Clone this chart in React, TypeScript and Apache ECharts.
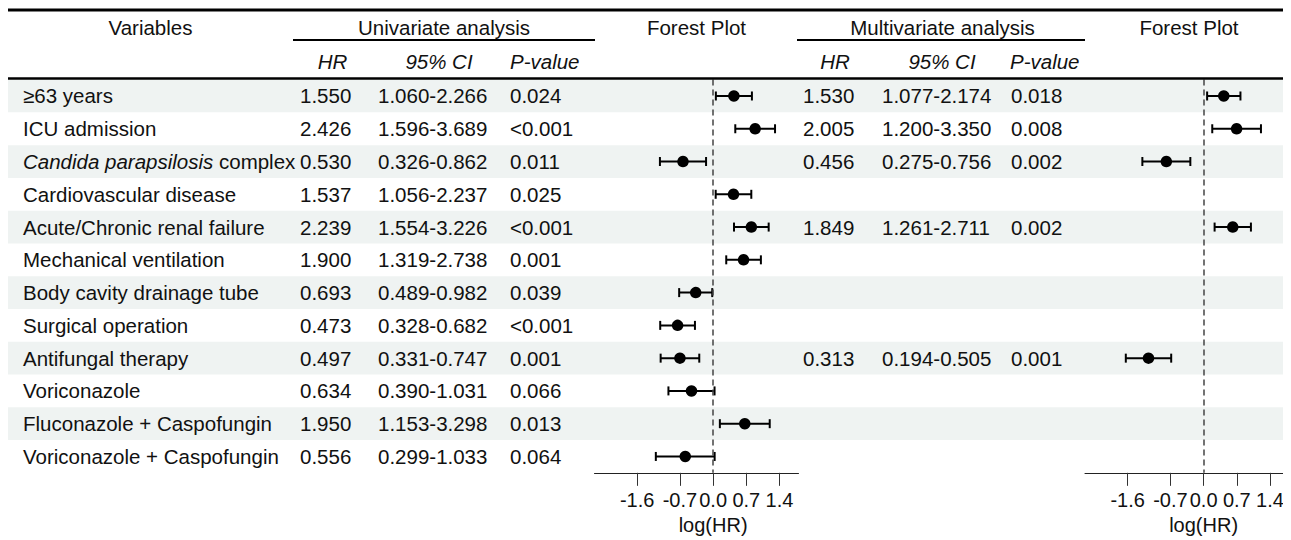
import React, { useEffect, useRef } from "react";
import * as echarts from "echarts";

// ---------------- data ----------------
const variables = [
  "≥63 years",
  "ICU admission",
  "{i|Candida parapsilosis} complex",
  "Cardiovascular disease",
  "Acute/Chronic renal failure",
  "Mechanical ventilation",
  "Body cavity drainage tube",
  "Surgical operation",
  "Antifungal therapy",
  "Voriconazole",
  "Fluconazole + Caspofungin",
  "Voriconazole + Caspofungin",
];
const uniHR = [1.55, 2.426, 0.53, 1.537, 2.239, 1.9, 0.693, 0.473, 0.497, 0.634, 1.95, 0.556];
const uniLow = [1.06, 1.596, 0.326, 1.056, 1.554, 1.319, 0.489, 0.328, 0.331, 0.39, 1.153, 0.299];
const uniHigh = [2.266, 3.689, 0.862, 2.237, 3.226, 2.738, 0.982, 0.682, 0.747, 1.031, 3.298, 1.033];
const uniP = ["0.024", "<0.001", "0.011", "0.025", "<0.001", "0.001", "0.039", "<0.001", "0.001", "0.066", "0.013", "0.064"];
const multiHR = [1.53, 2.005, 0.456, null, 1.849, null, null, null, 0.313, null, null, null];
const multiLow = [1.077, 1.2, 0.275, null, 1.261, null, null, null, 0.194, null, null, null];
const multiHigh = [2.174, 3.35, 0.756, null, 2.711, null, null, null, 0.505, null, null, null];
const multiP = ["0.018", "0.008", "0.002", "", "0.002", "", "", "", "0.001", "", "", ""];
const tickValues = [-1.6, -0.7, 0, 0.7, 1.4];
const headerTop = ["Variables", "Univariate analysis", "Forest Plot", "Multivariate analysis", "Forest Plot"];
const headerSub = ["HR", "95% CI", "P-value"];
const axisTitle = "log(HR)";

// ---------------- layout ----------------
const W = 1283;
const H = 532;
const FONT = '"Liberation Sans", Arial, Helvetica, sans-serif';
const FS = 20.5;
const TXT = "#111";
const SHADE = "#eff3f2";
const ROW_TOP = 71.6;
const ROW_H = 32.77;
const NROWS = variables.length;
const XMIN = -2.5;
const XMAX = 1.8;
const F1 = { left: 586.5, width: 204 };
const F2 = { left: 1077, width: 204 };
const col = { v: 15, uHR: 292, uCI: 370, uP: 502, mHR: 795, mCI: 874, mP: 1003 };

const fmt = (v: number | null) => (v == null ? "" : v.toFixed(3));
const fmtCI = (a: number | null, b: number | null) => (a == null || b == null ? "" : `${a.toFixed(3)}-${b.toFixed(3)}`);
const zeroX = (g: { left: number; width: number }) => g.left + ((0 - XMIN) / (XMAX - XMIN)) * g.width;

function textEl(text: string, x: number, y: number, align: string, italic = false, extra: any = {}) {
  return {
    type: "text",
    silent: true,
    z: 100,
    style: {
      text,
      x,
      y,
      align,
      verticalAlign: "middle",
      textAlign: align,
      textVerticalAlign: "middle",
      fill: TXT,
      fontSize: FS,
      fontFamily: FONT,
      fontStyle: italic ? "italic" : "normal",
      ...extra,
    },
  };
}

function lineEl(x1: number, y1: number, x2: number, y2: number, w: number, c = "#000") {
  return { type: "line", silent: true, z: 100, shape: { x1, y1, x2, y2 }, style: { stroke: c, lineWidth: w } };
}

export default function App() {
  const ref = useRef<HTMLDivElement>(null);

  useEffect(() => {
    if (!ref.current) return;
    const chart = echarts.init(ref.current, undefined, { renderer: "svg" });
    const rows = variables.map((_, i) => i);
    const richItalic = { i: { fontStyle: "italic", fontSize: FS, fontFamily: FONT, fill: TXT, color: TXT } };

    const tableRender = (params: any, api: any) => {
      const i = params.dataIndex;
      const c = api.coord([0, i]);
      const h = api.size([0, 1])[1];
      const y = c[1];
      const children: any[] = [];
      if (i % 2 === 0) {
        children.push({ type: "rect", silent: true, shape: { x: 0, y: y - h / 2, width: W, height: h }, style: { fill: SHADE } });
      }
      children.push(textEl(variables[i], col.v, y, "left", false, { rich: richItalic }));
      children.push(textEl(fmt(uniHR[i]), col.uHR, y, "left"));
      children.push(textEl(fmtCI(uniLow[i], uniHigh[i]), col.uCI, y, "left"));
      children.push(textEl(uniP[i], col.uP, y, "left"));
      children.push(textEl(fmt(multiHR[i]), col.mHR, y, "left"));
      children.push(textEl(fmtCI(multiLow[i], multiHigh[i]), col.mCI, y, "left"));
      children.push(textEl(multiP[i], col.mP, y, "left"));
      return { type: "group", children };
    };

    const ciRender = (params: any, api: any) => {
      const yIdx = api.value(2);
      const p1 = api.coord([api.value(0), yIdx]);
      const p2 = api.coord([api.value(1), yIdx]);
      const cap = 4.5;
      const st = { stroke: "#000", lineWidth: 2 };
      return {
        type: "group",
        children: [
          { type: "line", shape: { x1: p1[0], y1: p1[1], x2: p2[0], y2: p2[1] }, style: st },
          { type: "line", shape: { x1: p1[0], y1: p1[1] - cap, x2: p1[0], y2: p1[1] + cap }, style: st },
          { type: "line", shape: { x1: p2[0], y1: p2[1] - cap, x2: p2[0], y2: p2[1] + cap }, style: st },
        ],
      };
    };

    const uniCI = rows.map((i) => [Math.log(uniLow[i]), Math.log(uniHigh[i]), i]);
    const uniPts = rows.map((i) => [Math.log(uniHR[i]), i]);
    const mRows = rows.filter((i) => multiHR[i] != null);
    const multiCI = mRows.map((i) => [Math.log(multiLow[i] as number), Math.log(multiHigh[i] as number), i]);
    const multiPts = mRows.map((i) => [Math.log(multiHR[i] as number), i]);

    const forestX = (gridIndex: number) => ({
      gridIndex,
      type: "value",
      min: XMIN,
      max: XMAX,
      axisLine: { show: true, onZero: false, lineStyle: { color: "#222", width: 1 } },
      axisTick: { show: true, customValues: tickValues, length: 13, lineStyle: { color: "#333", width: 1 } },
      axisLabel: {
        customValues: tickValues,
        formatter: (v: number) => v.toFixed(1),
        fontSize: 20,
        fontFamily: FONT,
        color: TXT,
        margin: 17,
      },
      splitLine: { show: false },
    });
    const catY = (gridIndex: number) => ({
      gridIndex,
      type: "category",
      data: rows.map(String),
      inverse: true,
      show: false,
    });
    const markLine = {
      silent: true,
      symbol: "none",
      label: { show: false },
      lineStyle: { type: [6, 4], color: "#444", width: 1.5, opacity: 1 },
      data: [{ xAxis: 0 }],
    };

    const graphics: any[] = [
      lineEl(0, 2, W, 2, 3),
      lineEl(0, 70.5, W, 70.5, 2.6, "#000"),
      lineEl(285, 32, 587, 32, 2),
      lineEl(789, 32, 1077, 32, 2),
      textEl(headerTop[0], 142.5, 19, "center"),
      textEl(headerTop[1], 436, 19, "center"),
      textEl(headerTop[2], 688.5, 19, "center"),
      textEl(headerTop[3], 934.5, 19, "center"),
      textEl(headerTop[4], 1181, 19, "center"),
      textEl(headerSub[0], 324.5, 53, "center", true),
      textEl(headerSub[1], 431, 53, "center", true),
      textEl(headerSub[2], 502, 53, "left", true),
      textEl(headerSub[0], 827, 53, "center", true),
      textEl(headerSub[1], 934, 53, "center", true),
      textEl(headerSub[2], 1002, 53, "left", true),
      textEl(axisTitle, zeroX(F1), 517, "center", false, { fontSize: 20 }),
      textEl(axisTitle, zeroX(F2), 517, "center", false, { fontSize: 20 }),
    ];

    const scatter = (idx: number, data: number[][]) => ({
      type: "scatter",
      xAxisIndex: idx,
      yAxisIndex: idx,
      z: 4,
      silent: true,
      symbol: "circle",
      symbolSize: 11.5,
      itemStyle: { color: "#000", opacity: 1 },
      data,
      markLine,
    });

    chart.setOption({
      animation: false,
      backgroundColor: "#fff",
      grid: [
        { left: 0, top: ROW_TOP, width: W, height: ROW_H * NROWS, containLabel: false, outerBoundsMode: "none" },
        { left: F1.left, top: ROW_TOP, width: F1.width, height: ROW_H * NROWS, containLabel: false, outerBoundsMode: "none" },
        { left: F2.left, top: ROW_TOP, width: F2.width, height: ROW_H * NROWS, containLabel: false, outerBoundsMode: "none" },
      ],
      xAxis: [{ gridIndex: 0, type: "value", min: 0, max: W, show: false }, forestX(1), forestX(2)],
      yAxis: [catY(0), catY(1), catY(2)],
      graphic: { elements: graphics },
      series: [
        {
          type: "custom",
          xAxisIndex: 0,
          yAxisIndex: 0,
          z: 1,
          silent: true,
          data: rows.map((i) => [0, i]),
          encode: { x: 0, y: 1 },
          renderItem: tableRender,
        },
        {
          type: "custom",
          xAxisIndex: 1,
          yAxisIndex: 1,
          z: 3,
          silent: true,
          data: uniCI,
          encode: { x: [0, 1], y: 2 },
          renderItem: ciRender,
        },
        scatter(1, uniPts),
        {
          type: "custom",
          xAxisIndex: 2,
          yAxisIndex: 2,
          z: 3,
          silent: true,
          data: multiCI,
          encode: { x: [0, 1], y: 2 },
          renderItem: ciRender,
        },
        scatter(2, multiPts),
      ],
    });

    return () => chart.dispose();
  }, []);

  return <div ref={ref} style={{ width: W, height: H }} />;
}
